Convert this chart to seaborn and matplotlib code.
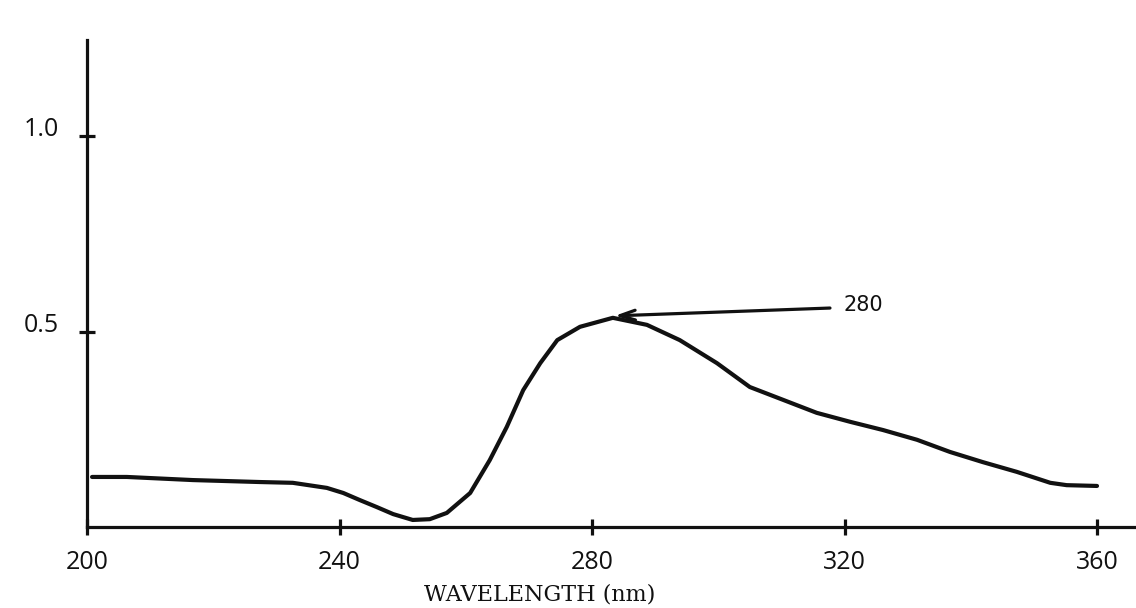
import matplotlib
matplotlib.use("Agg")
import matplotlib.pyplot as plt
import matplotlib.transforms as mtransforms
import seaborn as sns
import numpy as np
import pandas as pd

# ---- data ----
wavelength = [200.8, 206.3, 216.8, 227.4, 232.6, 238.0, 240.6, 243.2, 245.9, 248.5,
              251.6, 254.3, 257.0, 260.7, 263.8, 266.5, 269.1, 271.8, 274.5, 278.1,
              283.3, 288.7, 293.9, 299.8, 305.0, 310.3, 315.6, 320.9, 326.1, 331.5,
              336.7, 341.9, 347.3, 352.6, 355.2, 360.0]
absorbance = [0.128, 0.128, 0.120, 0.115, 0.113, 0.100, 0.087, 0.069, 0.051, 0.033,
              0.018, 0.020, 0.036, 0.087, 0.171, 0.256, 0.350, 0.419, 0.478, 0.512,
              0.535, 0.517, 0.478, 0.419, 0.358, 0.325, 0.292, 0.269, 0.248, 0.223,
              0.192, 0.166, 0.141, 0.113, 0.107, 0.105]
x_ticks = [200, 240, 280, 320, 360]
x_tick_labels = ["200", "240", "280", "320", "360"]
y_ticks = [0.5, 1.0]
y_tick_labels = ["0.5", "1.0"]
x_label = "WAVELENGTH (nm)"
peak_label = "280"
peak_point = (283.6, 0.540)
peak_label_pos = (317.7, 0.560)

df = pd.DataFrame({"wavelength": wavelength, "absorbance": absorbance})

sns.set_style("white")
plt.rcParams["font.family"] = ["Open Sans", "DejaVu Sans"]

W, H = 1136, 608
fig = plt.figure(figsize=(W / 100, H / 100), dpi=100)
left_px, right_px, top_px, bottom_px = 87, 1136, 40, 527
ax = fig.add_axes([left_px / W, (H - bottom_px) / H,
                   (right_px - left_px) / W, (bottom_px - top_px) / H])

ink = "#111111"
sns.lineplot(data=df, x="wavelength", y="absorbance", ax=ax, color=ink,
             lw=3.0, solid_capstyle="round", solid_joinstyle="round", sort=False)

px_per_nm = (1097 - 87) / 160.0
ax.set_xlim(200, 200 + (right_px - left_px) / px_per_nm)
px_per_unit = (527 - 136) / 1.0
ax.set_ylim(0, (bottom_px - top_px) / px_per_unit)

for s in ["top", "right"]:
    ax.spines[s].set_visible(False)
for s in ["left", "bottom"]:
    ax.spines[s].set_linewidth(2.3)
    ax.spines[s].set_color(ink)

ax.set_xticks(x_ticks)
ax.set_xticklabels(x_tick_labels)
ax.set_yticks(y_ticks)
ax.set_yticklabels(y_tick_labels)
ax.tick_params(axis="both", direction="inout", length=11, width=2.3, color=ink,
               labelsize=18, labelcolor=ink, bottom=True, left=True)
ax.tick_params(axis="x", pad=11)
ax.tick_params(axis="y", pad=15)
# y labels sit slightly above their ticks
off = mtransforms.ScaledTranslation(0, 9 / 100, fig.dpi_scale_trans)
for lab in ax.get_yticklabels():
    lab.set_transform(lab.get_transform() + off)

ax.set_xlabel(x_label, fontsize=16, family=["DejaVu Serif"], color=ink)
ax.xaxis.set_label_coords((540 - left_px) / (right_px - left_px),
                          (bottom_px - 594) / (bottom_px - top_px))
ax.xaxis.label.set_va("center")
ax.set_ylabel("")

ax.annotate("", xy=peak_point, xytext=peak_label_pos,
            arrowprops=dict(arrowstyle="->,head_length=1.1,head_width=0.35",
                            lw=2.3, color=ink, shrinkA=0, shrinkB=0))
ax.text(319.8, 0.568, peak_label, ha="left", va="center", fontsize=15,
        family=["DejaVu Sans"], color=ink)

fig.savefig("out.png", dpi=100, facecolor="white")
